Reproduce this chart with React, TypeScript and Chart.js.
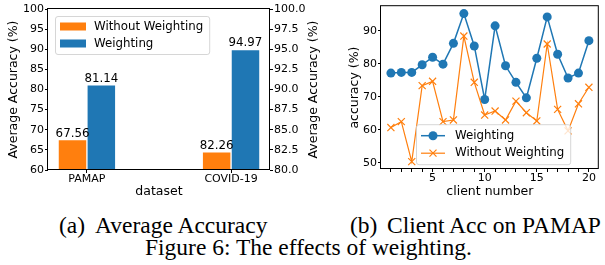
import React, { useEffect, useRef } from "react";
import { Chart, registerables } from "chart.js";

Chart.register(...registerables);

const FONT = "'DejaVu Sans', sans-serif";
const ORANGE = "#ff7f0e";
const BLUE = "#1f77b4";

// ---- (a) Average Accuracy ----
const datasetNames = ["PAMAP", "COVID-19"];
const accWithoutWeighting = [67.56, 82.26];
const accWeighting = [81.14, 94.97];
const accAxisOfDataset = ["y", "y2"]; // PAMAP on left axis, COVID-19 on right axis
const leftAxisTicks = [60, 65, 70, 75, 80, 85, 90, 95, 100];
const rightAxisTicks = [80, 82.5, 85, 87.5, 90, 92.5, 95, 97.5, 100];

// ---- (b) Client Acc on PAMAP ----
const clientNumbers = [1, 2, 3, 4, 5, 6, 7, 8, 9, 10, 11, 12, 13, 14, 15, 16, 17, 18, 19, 20];
const clientAccWeighting = [77.2, 77.4, 77.4, 79.7, 82.0, 79.9, 86.2, 95.2, 85.4, 69.2, 91.5, 79.4, 74.4, 69.7, 81.7, 94.2, 82.9, 75.7, 77.2, 87.0];
const clientAccWithout = [60.7, 62.5, 50.4, 73.4, 74.7, 62.5, 63.0, 88.4, 74.4, 64.5, 65.7, 63.0, 68.7, 65.2, 62.7, 86.0, 66.2, 59.7, 67.9, 72.9];
const clientXTickLabels = [5, 10, 15, 20];
const clientYTicks = [50, 60, 70, 80, 90];

const BAR_W = 0.2;
const TICK_FONT = { family: FONT, size: 11 };
const TITLE_FONT = { family: FONT, size: 12.5 };
const LEGEND_FONT = `11.8px ${FONT}`;

const framePlugin = {
  id: "frame",
  afterDatasetsDraw(chart: any) {
    const { ctx, chartArea: a } = chart;
    ctx.save();
    ctx.strokeStyle = "#000";
    ctx.lineWidth = 1;
    ctx.strokeRect(a.left - 0.5, a.top - 0.5, a.right - a.left, a.bottom - a.top);
    ctx.restore();
  },
};

function legendBox(ctx: CanvasRenderingContext2D, x: number, y: number, w: number, h: number) {
  ctx.save();
  ctx.beginPath();
  (ctx as any).roundRect(x + 0.5, y + 0.5, w, h, 2.5);
  ctx.fillStyle = "rgba(255,255,255,0.8)";
  ctx.fill();
  ctx.strokeStyle = "rgba(204,204,204,0.8)";
  ctx.lineWidth = 1;
  ctx.stroke();
  ctx.restore();
}

const valueLabelPlugin = {
  id: "valueLabels",
  afterDatasetsDraw(chart: any) {
    const { ctx } = chart;
    ctx.save();
    ctx.font = `11.8px ${FONT}`;
    ctx.fillStyle = "#000";
    ctx.textAlign = "center";
    ctx.textBaseline = "alphabetic";
    chart.data.datasets.forEach((ds: any, i: number) => {
      const meta = chart.getDatasetMeta(i);
      meta.data.forEach((bar: any, j: number) => {
        ctx.fillText(ds.data[j].y.toFixed(2), bar.x, bar.y - 3);
      });
    });
    ctx.restore();
  },
};

const leftLegendPlugin = {
  id: "leftLegend",
  afterDraw(chart: any) {
    const { ctx, chartArea: a } = chart;
    const items = [
      { label: "Without Weighting", color: ORANGE },
      { label: "Weighting", color: BLUE },
    ];
    ctx.save();
    ctx.font = LEGEND_FONT;
    const tw = Math.max(...items.map((it) => ctx.measureText(it.label).width));
    const bx = a.left + 7;
    const by = a.top + 7;
    legendBox(ctx, bx, by, 39 + tw + 6, 38);
    items.forEach((it, k) => {
      const cy = by + 10.5 + k * 17;
      ctx.fillStyle = it.color;
      ctx.fillRect(bx + 5, cy - 4, 26, 8);
      ctx.fillStyle = "#000";
      ctx.textBaseline = "middle";
      ctx.textAlign = "left";
      ctx.fillText(it.label, bx + 39, cy);
    });
    ctx.restore();
  },
};

const y2TitlePlugin = {
  id: "y2Title",
  afterDraw(chart: any) {
    const { ctx, chartArea: a } = chart;
    ctx.save();
    ctx.translate(a.right + 44, (a.top + a.bottom) / 2);
    ctx.rotate(-Math.PI / 2);
    ctx.font = `12.5px ${FONT}`;
    ctx.fillStyle = "#000";
    ctx.textAlign = "center";
    ctx.textBaseline = "middle";
    ctx.fillText("Average Accuracy (%)", 0, 0);
    ctx.restore();
  },
};

const rightLegendPlugin = {
  id: "rightLegend",
  afterDraw(chart: any) {
    const { ctx, chartArea: a } = chart;
    const items = [
      { label: "Weighting", color: BLUE, marker: "circle" },
      { label: "Without Weighting", color: ORANGE, marker: "x" },
    ];
    ctx.save();
    ctx.font = LEGEND_FONT;
    const tw = Math.max(...items.map((it) => ctx.measureText(it.label).width));
    const bx = a.left + 35;
    const by = a.top + 118;
    legendBox(ctx, bx, by, 39 + tw + 6, 40);
    items.forEach((it, k) => {
      const cy = by + 11.5 + k * 17.5;
      ctx.strokeStyle = it.color;
      ctx.lineWidth = it.marker === "circle" ? 1.5 : 1.2;
      ctx.beginPath();
      ctx.moveTo(bx + 5, cy);
      ctx.lineTo(bx + 29, cy);
      ctx.stroke();
      if (it.marker === "circle") {
        ctx.fillStyle = it.color;
        ctx.beginPath();
        ctx.arc(bx + 17, cy, 4.5, 0, Math.PI * 2);
        ctx.fill();
      } else {
        const r = 3.5;
        ctx.beginPath();
        ctx.moveTo(bx + 17 - r, cy - r);
        ctx.lineTo(bx + 17 + r, cy + r);
        ctx.moveTo(bx + 17 - r, cy + r);
        ctx.lineTo(bx + 17 + r, cy - r);
        ctx.stroke();
      }
      ctx.fillStyle = "#000";
      ctx.textBaseline = "middle";
      ctx.textAlign = "left";
      ctx.fillText(it.label, bx + 39, cy);
    });
    ctx.restore();
  },
};

const axisGrid = { drawOnChartArea: false, tickLength: 3, color: "#000", tickColor: "#000", offset: false };

function leftConfig(): any {
  const barSets: any[] = [];
  datasetNames.forEach((_, i) => {
    barSets.push({
      label: "Without Weighting",
      data: [{ x: i - BAR_W / 2, y: accWithoutWeighting[i] }],
      yAxisID: accAxisOfDataset[i],
      backgroundColor: ORANGE,
    });
    barSets.push({
      label: "Weighting",
      data: [{ x: i + BAR_W / 2, y: accWeighting[i] }],
      yAxisID: accAxisOfDataset[i],
      backgroundColor: BLUE,
    });
  });
  barSets.forEach((d) => {
    d.grouped = false;
    d.categoryPercentage = 1;
    d.barPercentage = 1;
    d.borderWidth = 1;
    d.borderColor = "rgba(255,255,255,0.6)";
  });
  const lo = -BAR_W;
  const hi = datasetNames.length - 1 + BAR_W;
  const m = (hi - lo) * 0.05;
  return {
    type: "bar",
    data: { datasets: barSets },
    options: {
      responsive: false,
      animation: false,
      layout: { padding: { top: 9, left: 0, right: 0, bottom: 0 } },
      plugins: { legend: { display: false }, tooltip: { enabled: false } },
      scales: {
        x: {
          type: "linear",
          min: lo - m,
          max: hi + m,
          offset: false,
          afterBuildTicks: (s: any) => {
            s.ticks = datasetNames.map((_, i) => ({ value: i }));
          },
          ticks: {
            autoSkip: false,
            maxRotation: 0,
            padding: 0,
            font: TICK_FONT,
            color: "#000",
            callback: (v: number) => datasetNames[v] ?? "",
          },
          grid: axisGrid,
          border: { display: false },
          title: { display: true, text: "dataset", font: TITLE_FONT, color: "#000", padding: { top: 0, bottom: 5.5 } },
          afterFit: (s: any) => {
            s.height = 35;
            s.paddingLeft = 0;
            s.paddingRight = 0;
          },
        },
        y: {
          type: "linear",
          position: "left",
          min: leftAxisTicks[0],
          max: leftAxisTicks[leftAxisTicks.length - 1],
          afterBuildTicks: (s: any) => {
            s.ticks = leftAxisTicks.map((v) => ({ value: v }));
          },
          ticks: { padding: 1, font: TICK_FONT, color: "#000", callback: (v: number) => String(v) },
          grid: axisGrid,
          border: { display: false },
          title: {
            display: true,
            text: "Average Accuracy (%)",
            font: TITLE_FONT,
            color: "#000",
            padding: { top: 6.5, bottom: 0 },
          },
          afterFit: (s: any) => {
            s.width = 48;
            s.paddingTop = 0;
            s.paddingBottom = 0;
          },
        },
        y2: {
          type: "linear",
          position: "right",
          min: rightAxisTicks[0],
          max: rightAxisTicks[rightAxisTicks.length - 1],
          afterBuildTicks: (s: any) => {
            s.ticks = rightAxisTicks.map((v) => ({ value: v }));
          },
          ticks: { padding: 1, font: TICK_FONT, color: "#000", callback: (v: number) => v.toFixed(1) },
          grid: axisGrid,
          border: { display: false },
          title: { display: false },
          afterFit: (s: any) => {
            s.width = 65;
            s.paddingTop = 0;
            s.paddingBottom = 0;
          },
        },
      },
    },
    plugins: [valueLabelPlugin, framePlugin, leftLegendPlugin, y2TitlePlugin],
  };
}

function rightConfig(): any {
  const all = [...clientAccWeighting, ...clientAccWithout];
  const lo = Math.min(...all);
  const hi = Math.max(...all);
  const m = (hi - lo) * 0.05;
  const xlo = clientNumbers[0];
  const xhi = clientNumbers[clientNumbers.length - 1];
  const xm = (xhi - xlo) * 0.05;
  return {
    type: "line",
    data: {
      datasets: [
        {
          label: "Weighting",
          data: clientNumbers.map((c, i) => ({ x: c, y: clientAccWeighting[i] })),
          borderColor: BLUE,
          backgroundColor: BLUE,
          borderWidth: 1.5,
          pointStyle: "circle",
          pointRadius: 4.5,
          pointBorderWidth: 0,
          pointBackgroundColor: BLUE,
          tension: 0,
          order: 1,
        },
        {
          label: "Without Weighting",
          data: clientNumbers.map((c, i) => ({ x: c, y: clientAccWithout[i] })),
          borderColor: ORANGE,
          backgroundColor: ORANGE,
          borderWidth: 1.2,
          pointStyle: "crossRot",
          pointRadius: 5,
          pointBorderWidth: 1.2,
          pointBorderColor: ORANGE,
          tension: 0,
          order: 0,
        },
      ],
    },
    options: {
      responsive: false,
      animation: false,
      layout: { padding: { top: 5, left: 0, right: 0, bottom: 0 } },
      plugins: { legend: { display: false }, tooltip: { enabled: false } },
      scales: {
        x: {
          type: "linear",
          min: xlo - xm,
          max: xhi + xm,
          afterBuildTicks: (s: any) => {
            s.ticks = clientNumbers.map((v) => ({ value: v }));
          },
          ticks: {
            autoSkip: false,
            maxRotation: 0,
            padding: 0,
            font: TICK_FONT,
            color: "#000",
            callback: (v: number) => (clientXTickLabels.includes(v) ? String(v) : ""),
          },
          grid: axisGrid,
          border: { display: false },
          title: { display: true, text: "client number", font: TITLE_FONT, color: "#000", padding: { top: 0, bottom: 5.5 } },
          afterFit: (s: any) => {
            s.height = 36;
            s.paddingLeft = 0;
            s.paddingRight = 0;
          },
        },
        y: {
          type: "linear",
          min: lo - m,
          max: hi + m,
          afterBuildTicks: (s: any) => {
            s.ticks = clientYTicks.map((v) => ({ value: v }));
          },
          ticks: { padding: 1, font: TICK_FONT, color: "#000", callback: (v: number) => String(v) },
          grid: axisGrid,
          border: { display: false },
          title: {
            display: true,
            text: "accuracy (%)",
            font: TITLE_FONT,
            color: "#000",
            padding: { top: 12.5, bottom: 0 },
          },
          afterFit: (s: any) => {
            s.width = 46;
            s.paddingTop = 0;
            s.paddingBottom = 0;
          },
        },
      },
    },
    plugins: [framePlugin, rightLegendPlugin],
  };
}

const captionFont: React.CSSProperties = {
  position: "absolute",
  fontFamily: "'Liberation Serif', 'Times New Roman', serif",
  fontSize: 23.5,
  lineHeight: "24px",
  whiteSpace: "pre",
  color: "#000",
};

export default function App() {
  const leftRef = useRef<HTMLCanvasElement>(null);
  const rightRef = useRef<HTMLCanvasElement>(null);
  useEffect(() => {
    const left = new Chart(leftRef.current as HTMLCanvasElement, leftConfig());
    const right = new Chart(rightRef.current as HTMLCanvasElement, rightConfig());
    return () => {
      left.destroy();
      right.destroy();
    };
  }, []);
  return (
    <div style={{ position: "absolute", left: 0, top: 0, width: 605, height: 265, background: "#fff", overflow: "hidden" }}>
      <canvas ref={leftRef} width={335} height={205} style={{ position: "absolute", left: 0, top: 0, display: "block" }} />
      <canvas ref={rightRef} width={270} height={205} style={{ position: "absolute", left: 335, top: 0, display: "block" }} />
      <div style={{ ...captionFont, left: 59, top: 213 }}>(a)</div>
      <div style={{ ...captionFont, left: 95, top: 213 }}>Average Accuracy</div>
      <div style={{ ...captionFont, left: 350, top: 213 }}>(b)</div>
      <div style={{ ...captionFont, left: 387, top: 213 }}>Client Acc on PAMAP</div>
      <div style={{ ...captionFont, left: 145, top: 235 }}>Figure 6: The effects of weighting.</div>
    </div>
  );
}
